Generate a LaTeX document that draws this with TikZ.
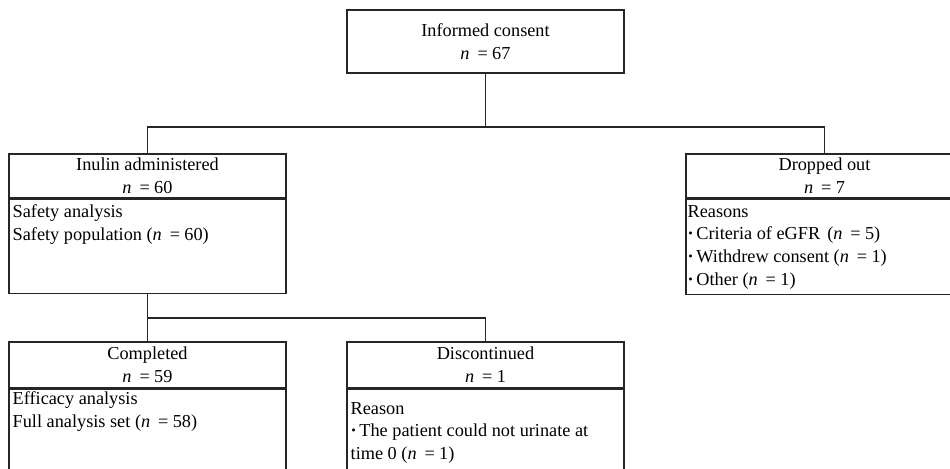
\documentclass[tikz,border=0pt]{standalone}
\usepackage{fontspec}
\setmainfont{Liberation Serif}
\usetikzlibrary{positioning}
\newcommand{\nval}[1]{\textit{n}\hspace{4.5pt}=\hspace{2.5pt}#1}
\newcommand{\dotitem}{\textbf{\textperiodcentered}\hspace{1.5pt}}
\tikzset{%
  headbox/.style = {shape=rectangle, draw=black!85, line width=0.8pt,%
                    align=center, minimum width=5.54cm, inner sep=0pt},%
  bodybox/.style = {shape=rectangle, draw=black!85, line width=0.8pt,%
                    minimum width=5.54cm, inner sep=0pt},%
  notes/.style   = {anchor=north west, align=left, inner sep=0pt,%
                    execute at begin node=\rule{0pt}{9pt}},%
  link/.style    = {draw=black!85, line width=0.8pt}%
}

\begin{document}
\begin{tikzpicture}[x=0.02cm,y=-0.02cm,
	every node/.style = {font=\fontsize{10.4}{13}\selectfont}]
	\useasboundingbox (0,0) rectangle (950,469);
	\clip (0,0) rectangle (950,469);
	\node [headbox, minimum height=1.26cm] (consent) at (485.5,41.5) {Informed consent\\\nval{67}};
	\node [headbox, minimum height=0.88cm] (inulin) at (147.5,176) {Inulin administered\\\nval{60}};
	\node [bodybox, minimum height=1.88cm, below=0pt of inulin] (inulinbody) {};
	\node [notes] at ([shift={(4,6)}]inulinbody.north west)
		{Safety analysis\\Safety population (\nval{60})};
	\node [headbox, minimum height=0.88cm] (dropped) at (824.5,176) {Dropped out\\\nval{7}};
	\node [bodybox, minimum height=1.9cm, below=0pt of dropped] (droppedbody) {};
	\node [notes] at ([shift={(2,6)}]droppedbody.north west)
		{Reasons\\\dotitem Criteria of eGFR\hspace{4pt}(\nval{5})\\\dotitem Withdrew consent (\nval{1})\\\dotitem Other (\nval{1})};
	\node [headbox, minimum height=0.92cm] (done) at (147.5,365) {Completed\\\nval{59}};
	\node [bodybox, minimum height=2cm, below=0pt of done] (donebody) {};
	\node [notes] at ([shift={(4,3)}]donebody.north west)
		{Efficacy analysis\\Full analysis set (\nval{58})};
	\node [headbox, minimum height=0.92cm] (discont) at (485.5,365) {Discontinued\\\nval{1}};
	\node [bodybox, minimum height=2cm, below=0pt of discont] (discontbody) {};
	\node [notes] at ([shift={(4,13)}]discontbody.north west)
		{Reason\\\dotitem The patient could not urinate at\\time 0 (\nval{1})};
	\coordinate (fork) at (consent.south |- 0,127);
	\coordinate (fork2) at (inulinbody.south |- 0,318);
	\draw [link] (consent.south) -- (fork);
	\draw [link] (fork) -| (inulin.north);
	\draw [link] (fork) -| (dropped.north);
	\draw [link] (inulinbody.south) -- (fork2) -- (done.north);
	\draw [link] (fork2) -| (discont.north);
\end{tikzpicture}
\end{document}
